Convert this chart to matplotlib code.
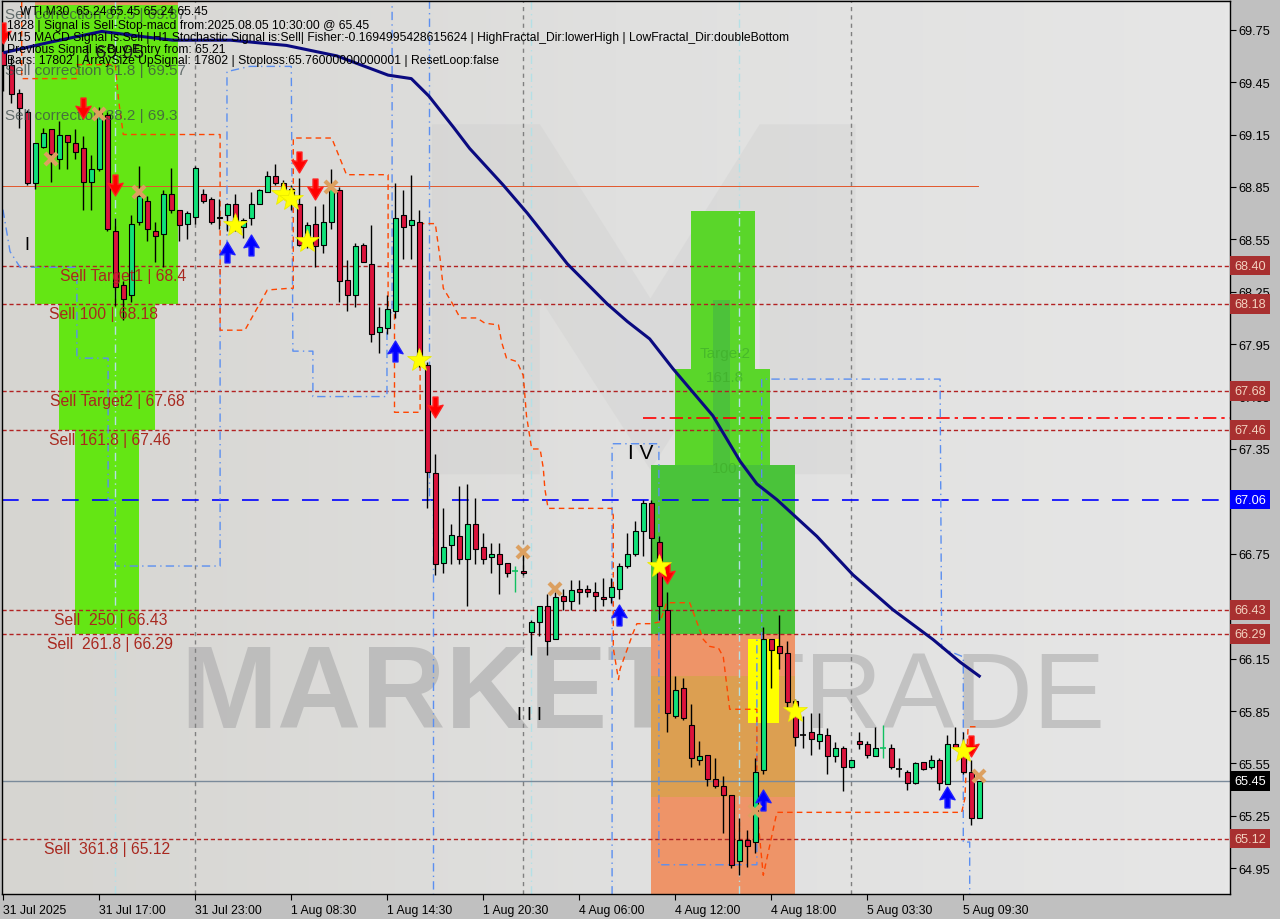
import numpy as np
import matplotlib
matplotlib.use('Agg')
import matplotlib.pyplot as plt
import matplotlib.transforms as mtransforms
from matplotlib.path import Path
from matplotlib.patches import Rectangle, Polygon
from matplotlib.colors import LinearSegmentedColormap

# WTI M30 candles, bar 0 = 31 Jul 11:00
opens = [69.63, 69.55, 69.39, 69.28, 68.87, 69.08, 69.18, 69.01, 69.15, 69.10,
         69.07, 68.88, 68.95, 69.26, 68.60, 68.29, 68.23, 68.65, 68.77, 68.60,
         68.58, 68.81, 68.72, 68.64, 68.68, 68.81, 68.78, 68.67, 68.69, 68.75,
         68.62, 68.67, 68.75, 68.82, 68.91, 68.87, 68.84, 68.75, 68.52, 68.64,
         68.52, 68.65, 68.83, 68.32, 68.23, 68.52, 68.41, 68.02, 68.04, 68.14,
         68.69, 68.63, 68.65, 67.83, 67.21, 66.70, 66.80, 66.85, 66.72, 66.92,
         66.79, 66.73, 66.75, 66.70, 66.65, 66.65, 66.30, 66.36, 66.45, 66.26,
         66.51, 66.48, 66.55, 66.55, 66.53, 66.50, 66.50, 66.55, 66.68, 66.75,
         66.88, 67.04, 66.82, 66.43, 65.82, 65.98, 65.77, 65.57, 65.60, 65.46,
         65.42, 65.37, 64.99, 65.11, 65.10, 65.51, 66.26, 66.22, 66.18, 65.91,
         65.71, 65.73, 65.68, 65.71, 65.59, 65.64, 65.53, 65.68, 65.66, 65.59,
         65.64, 65.64, 65.52, 65.50, 65.44, 65.56, 65.53, 65.57, 65.43, 65.66,
         65.61, 65.50, 65.24]
highs = [69.72, 69.60, 69.41, 69.29, 69.10, 69.19, 69.18, 69.23, 69.15, 69.18,
         69.14, 69.03, 69.31, 69.28, 68.67, 68.31, 68.69, 68.97, 68.80, 68.65,
         68.83, 68.96, 68.72, 68.71, 68.97, 68.84, 68.79, 68.78, 68.76, 68.81,
         68.67, 68.82, 68.84, 68.94, 68.98, 68.89, 68.86, 68.90, 68.65, 68.74,
         68.75, 68.95, 68.85, 68.43, 68.53, 68.53, 68.63, 68.16, 68.23, 68.87,
         68.83, 68.92, 68.72, 67.85, 67.32, 67.01, 66.92, 67.14, 67.15, 67.07,
         66.87, 66.81, 66.81, 66.70, 66.68, 66.76, 66.37, 66.45, 66.52, 66.53,
         66.55, 66.60, 66.60, 66.57, 66.59, 66.61, 66.61, 66.70, 66.87, 66.94,
         67.06, 67.06, 66.85, 66.53, 66.05, 66.04, 65.89, 65.68, 65.60, 65.58,
         65.48, 65.37, 65.24, 65.17, 65.58, 66.33, 66.26, 66.40, 66.25, 65.92,
         65.82, 65.84, 65.84, 65.75, 65.67, 65.65, 65.57, 65.73, 65.68, 65.76,
         65.77, 65.66, 65.58, 65.51, 65.56, 65.56, 65.60, 65.58, 65.71, 65.76,
         65.73, 65.57, 65.45]
lows = [69.40, 69.33, 69.19, 68.86, 68.84, 69.07, 68.88, 68.95, 68.95, 69.01,
        68.72, 68.72, 68.94, 68.60, 68.17, 68.09, 68.19, 68.63, 68.54, 68.42,
        68.39, 68.70, 68.54, 68.55, 68.64, 68.76, 68.64, 68.61, 68.60, 68.60,
        68.56, 68.63, 68.75, 68.82, 68.86, 68.80, 68.72, 68.51, 68.50, 68.39,
        68.47, 68.61, 68.19, 68.14, 68.16, 68.42, 67.96, 67.90, 68.01, 68.10,
        68.44, 68.44, 67.82, 67.01, 66.63, 66.64, 66.69, 66.69, 66.45, 66.69,
        66.69, 66.64, 66.52, 66.62, 66.53, 66.63, 66.17, 66.28, 66.17, 66.26,
        66.43, 66.43, 66.46, 66.50, 66.42, 66.45, 66.47, 66.49, 66.67, 66.74,
        66.74, 66.69, 66.37, 65.73, 65.81, 65.80, 65.53, 65.54, 65.42, 65.41,
        65.15, 64.95, 64.91, 64.96, 65.04, 65.49, 65.98, 66.09, 65.86, 65.65,
        65.64, 65.60, 65.63, 65.49, 65.56, 65.39, 65.53, 65.63, 65.58, 65.59,
        65.58, 65.52, 65.47, 65.40, 65.43, 65.51, 65.52, 65.40, 65.43, 65.63,
        65.49, 65.20, 65.24]
closes = [69.55, 69.38, 69.30, 68.87, 69.10, 69.16, 69.04, 69.15, 69.11, 69.05,
          68.88, 68.95, 69.28, 68.61, 68.28, 68.21, 68.64, 68.80, 68.61, 68.57,
          68.81, 68.72, 68.63, 68.70, 68.96, 68.77, 68.65, 68.68, 68.75, 68.65,
          68.66, 68.75, 68.83, 68.91, 68.87, 68.84, 68.78, 68.52, 68.63, 68.51,
          68.65, 68.84, 68.31, 68.23, 68.51, 68.42, 68.01, 68.05, 68.15, 68.67,
          68.62, 68.66, 67.85, 67.22, 66.69, 66.79, 66.86, 66.72, 66.92, 66.78,
          66.72, 66.75, 66.69, 66.64, 66.65, 66.64, 66.36, 66.45, 66.25, 66.50,
          66.48, 66.54, 66.53, 66.53, 66.51, 66.49, 66.56, 66.68, 66.75, 66.88,
          67.04, 66.84, 66.45, 65.84, 65.97, 65.81, 65.58, 65.59, 65.46, 65.42,
          65.37, 64.97, 65.11, 65.08, 65.50, 66.26, 66.20, 66.18, 65.90, 65.70,
          65.71, 65.69, 65.72, 65.59, 65.64, 65.53, 65.57, 65.66, 65.60, 65.64,
          65.64, 65.53, 65.52, 65.44, 65.55, 65.52, 65.57, 65.44, 65.66, 65.64,
          65.50, 65.24, 65.45]
cross_bars = [64, 110]   # green doji crosses

time_labels = ["31 Jul 2025", "31 Jul 17:00", "31 Jul 23:00", "1 Aug 08:30", "1 Aug 14:30",
               "1 Aug 20:30", "4 Aug 06:00", "4 Aug 12:00", "4 Aug 18:00", "5 Aug 03:30",
               "5 Aug 09:30"]
label_bars = [0, 12, 24, 36, 48, 60, 72, 84, 96, 108, 120]
day_sep_bars = [24, 65, 106]
cyan_sep_bars = [14, 66, 92]

# levels
sell_levels = [68.40, 68.18, 67.68, 67.46, 66.43, 66.29, 65.12]
sell_texts = ["Sell Target1 | 68.4", "Sell 100 | 68.18", "Sell Target2 | 67.68",
              "Sell 161.8 | 67.46", "Sell  250 | 66.43", "Sell  261.8 | 66.29",
              "Sell  361.8 | 65.12"]
sell_text_bars = [7.1, 5.7, 5.8, 5.7, 6.3, 5.5, 5.1]
blue_level = 67.06
last_price = 65.45
red_dashdot_level = 67.53
red_dashdot_start = 80.0
orange_level = 68.855
orange_level_end = 121.8
corr_texts = ["Sell correction 87.5 | 69.87", "Sell correction 61.8 | 69.57", "Sell correction 38.2 | 69.3"]
corr_prices = [69.84, 69.52, 69.26]

# moving average
ma_bars = [0.2, 6.0, 12.3, 17.5, 21.2, 28.4, 35.4, 41.7, 48.1, 51.0, 53.2, 56.3, 58.3, 62.5,
           65.5, 70.5, 75.5, 78.0, 80.8, 83.7, 88.7, 92.1, 94.2, 96.7, 101.7, 106.2, 111.2,
           116.2, 119.6, 122.0]
ma_vals = [69.62, 69.68, 69.74, 69.71, 69.69, 69.69, 69.66, 69.60, 69.49, 69.47, 69.37, 69.19,
           69.07, 68.86, 68.70, 68.41, 68.18, 68.08, 67.98, 67.81, 67.54, 67.28, 67.15, 67.06,
           66.85, 66.63, 66.43, 66.26, 66.13, 66.05]

# fractal channel lines
blue_fr1_bars = [-0.04, 0.84, 2.1, 9.2, 9.2, 13.1, 13.1, 14.0, 14.0, 27.1, 27.1, 27.96, 27.96,
                 30.8, 36.0, 36.2, 38.7, 38.7, 47.96, 47.96, 48.6, 48.6]
blue_fr1_vals = [68.72, 68.48, 68.39, 68.39, 67.87, 67.87, 67.06, 67.06, 66.68, 66.68, 68.46,
                 68.46, 69.51, 69.54, 69.54, 67.91, 67.91, 67.65, 67.65, 68.13, 68.13, 69.92]
blue_fr2_bars = [53.2, 53.2, 53.7, 53.7]
blue_fr2_vals = [69.92, 67.06, 67.06, 64.80]
blue_fr3_bars = [76.1, 76.1, 81.95, 81.95, 94.2, 94.2, 94.8, 94.8, 117.1, 117.3, 120.0, 120.0,
                 120.8, 120.8]
blue_fr3_vals = [64.80, 67.38, 67.38, 64.97, 64.97, 66.26, 66.26, 67.75, 67.75, 66.21, 66.16,
                 65.10, 65.10, 64.80]
orange_fr_bars = [2.3, 2.3, 9.2, 9.2, 14.0, 14.4, 15.0, 27.1, 27.1, 30.2, 33.0, 35.8, 36.25,
                  36.25, 41.05, 42.9, 48.1, 48.1, 48.9, 48.9, 52.1, 52.1, 54.0, 54.6, 55.0,
                  56.05, 57.1, 59.2, 60.2, 61.9, 62.3, 62.9, 64.2, 65.0, 65.4, 66.05, 67.1,
                  67.5, 67.7, 68.1, 76.05, 76.25, 76.25, 76.9, 77.1, 78.75, 79.2, 80.8, 82.1,
                  82.9, 85.8, 87.5, 88.3, 89.4, 90.0, 90.8, 94.2, 94.2, 95.0, 96.7, 119.8,
                  120.2, 120.6, 121.9]
orange_fr_vals = [69.91, 69.47, 69.47, 69.55, 69.55, 69.35, 69.15, 69.15, 68.03, 68.03, 68.26,
                  68.27, 68.27, 69.13, 69.13, 68.92, 68.92, 68.17, 68.17, 67.56, 67.56, 68.64,
                  68.64, 68.44, 68.27, 68.19, 68.10, 68.10, 68.07, 68.06, 67.96, 67.87, 67.85,
                  67.77, 67.54, 67.35, 67.35, 67.24, 67.12, 67.01, 67.01, 66.97, 66.21, 66.03,
                  66.09, 66.30, 66.35, 66.35, 66.36, 66.47, 66.47, 66.26, 66.22, 66.21, 66.16,
                  65.86, 65.86, 65.29, 64.91, 65.27, 65.27, 65.35, 65.76, 65.76]

# signal markers
sell_arrow_bars = [0, 10, 14, 37, 39, 54, 83, 121]
sell_arrow_vals = [69.73, 69.30, 68.86, 68.99, 68.84, 67.59, 66.64, 65.65]
buy_arrow_bars = [28, 31, 49, 77, 95, 118]
buy_arrow_vals = [68.48, 68.52, 67.91, 66.40, 65.34, 65.36]
star_bars = [29, 35, 36, 38, 52, 82, 99, 120]
star_vals = [68.63, 68.81, 68.78, 68.54, 67.86, 66.68, 65.85, 65.62]
cross_mark_bars = [6, 12, 17, 41, 65, 69, 94, 122]
cross_mark_vals = [69.01, 69.27, 68.82, 68.85, 66.76, 66.55, 65.28, 65.48]

# zones (bar range, price range)
left_zone_x0 = [3.96, 7.0, 8.96]
left_zone_x1 = [21.84, 18.96, 16.96]
left_zone_top = [69.89, 68.18, 67.46]
left_zone_bot = [68.18, 67.46, 66.29]
right_zone_x0 = [85.96, 83.96, 80.96]
right_zone_x1 = [93.96, 95.8, 98.96]
right_zone_top = [68.71, 67.81, 67.26]
right_zone_bot = 66.29
orange_zone = (80.96, 98.96, 64.80, 66.29)
yellow_zone = (93.1, 96.96, 65.78, 66.26)

info_lines = [
    "WTI,M30  65.24 65.45 65.24 65.45",
    "1828 | Signal is Sell-Stop-macd from:2025.08.05 10:30:00 @ 65.45",
    "M15 MACD Signal is:Sell | H1 Stochastic Signal is:Sell| Fisher:-0.1694995428615624 | HighFractal_Dir:lowerHigh | LowFractal_Dir:doubleBottom",
    "Previous Signal is:Buy-Entry from: 65.21",
    "Bars: 17802 | ArraySize UpSignal: 17802 | Stoploss:65.76000000000001 | ResetLoop:false",
]

FONT = 'Liberation Sans'
BULL = '#10e27a'
BEAR = '#dc143c'
LEVEL_RED = '#b22222'

fig = plt.figure(figsize=(12.8, 9.2), dpi=100, facecolor='#c0c0c0')
ax = fig.add_axes([2 / 1280, 25 / 920, 1228 / 1280, 893 / 920])

# background gradient + faint logo
cmap = LinearSegmentedColormap.from_list('bg', ['#d6d5d1', '#e0e0df', '#e6e6e6'])
ax.imshow(np.linspace(0, 1, 256).reshape(1, -1), extent=[0, 1, 0, 1], transform=ax.transAxes,
          aspect='auto', cmap=cmap, zorder=0)
logo = [(0.350, 0.862), (0.438, 0.862), (0.528, 0.667), (0.617, 0.862), (0.695, 0.862),
        (0.695, 0.470), (0.617, 0.470), (0.617, 0.667), (0.528, 0.475), (0.438, 0.667),
        (0.438, 0.470), (0.350, 0.470)]
ax.add_patch(Polygon(logo, closed=True, transform=ax.transAxes, facecolor='#cacaca',
                     alpha=0.28, edgecolor='none', zorder=0.2))
ax.text(0.145, 0.187, 'MARKETZ', transform=ax.transAxes, fontsize=84, fontweight='bold',
        family=FONT, color='#b8b8b8', alpha=0.85, va='baseline', zorder=0.3)
ax.text(0.600, 0.187, 'TRADE', transform=ax.transAxes, fontsize=78, family=FONT,
        color='#bdbdbd', alpha=0.85, va='baseline', zorder=0.3)

# zones
ax.add_patch(Rectangle((left_zone_x0[0], 69.89), left_zone_x1[0] - left_zone_x0[0], 0.05,
                       facecolor='#e8956a', edgecolor='none', zorder=0.5))
for x0, x1, top, bot in zip(left_zone_x0, left_zone_x1, left_zone_top, left_zone_bot):
    ax.add_patch(Rectangle((x0, bot), x1 - x0, top - bot, facecolor='#64e614',
                           edgecolor='none', zorder=0.5))
ox0, ox1, ob, ot = orange_zone
ax.add_patch(Rectangle((ox0, ob), ox1 - ox0, ot - ob, facecolor='#ee9468', edgecolor='none', zorder=0.5))
ax.add_patch(Rectangle((ox0, 65.36), ox1 - ox0, 0.69, facecolor='#d9a24e', edgecolor='none',
                       alpha=0.85, zorder=0.55))
right_colors = ['#5ad62a', '#5ad62a', '#4ac33a']
for x0, x1, top, c in zip(right_zone_x0, right_zone_x1, right_zone_top, right_colors):
    ax.add_patch(Rectangle((x0, right_zone_bot), x1 - x0, top - right_zone_bot, facecolor=c,
                           edgecolor='none', zorder=0.5 if c != '#4ac33a' else 0.52))
ax.add_patch(Rectangle((88.7, right_zone_top[2]), 2.2, 68.20 - right_zone_top[2],
                       facecolor='#4cc23a', edgecolor='none', zorder=0.51))
yx0, yx1, yb, yt = yellow_zone
ax.add_patch(Rectangle((yx0, yb), yx1 - yx0, yt - yb, facecolor='#ffff00', edgecolor='none', zorder=0.6))
for txt, pv in zip(["Target2", "161.8", "100"], [67.90, 67.76, 67.24]):
    ax.text(90.2, pv, txt, fontsize=11, family=FONT, color='#3fae2a', alpha=0.7,
            ha='center', va='center', zorder=0.7)

# separators
for b in day_sep_bars:
    ax.axvline(b, color='#808080', lw=1, ls=(0, (3, 3)), zorder=0.8)
for b in cyan_sep_bars:
    ax.axvline(b, color='#b4e0e6', lw=1, ls=(0, (6, 3, 1, 3)), zorder=0.8)

# level lines
for lvl in sell_levels:
    ax.axhline(lvl, color=LEVEL_RED, lw=1, ls=(0, (3, 2)), zorder=1)
for txt, b, lvl in zip(sell_texts, sell_text_bars, sell_levels):
    ax.text(b, lvl - 0.055, txt, fontsize=11.3, family=FONT, color='#a8281f',
            va='center', ha='left', zorder=6)
ax.axhline(blue_level, color='#0000ff', lw=1.2, ls=(0, (10, 8)), zorder=1)
ax.axhline(last_price, color='#7a8a9a', lw=1, zorder=1)
ax.plot([red_dashdot_start, 153.4], [red_dashdot_level] * 2, color='#ff0000', lw=1.2,
        ls=(0, (8, 3, 2, 3)), zorder=1)
ax.plot([-0.2, orange_level_end], [orange_level] * 2, color='#e2572c', lw=0.7, zorder=1)

# fractal lines
for bx, by in [(blue_fr1_bars, blue_fr1_vals), (blue_fr2_bars, blue_fr2_vals),
               (blue_fr3_bars, blue_fr3_vals)]:
    ax.plot(bx, by, color='#5b8ff0', lw=1, ls=(0, (6, 3, 1, 3)), zorder=1.5)
ax.plot(orange_fr_bars, orange_fr_vals, color='#ff4500', lw=1, ls=(0, (4, 3)), zorder=1.5)

# moving average
ax.plot(ma_bars, ma_vals, color='#0a0a80', lw=2.2, zorder=4)

# candles
x = np.arange(len(opens))
o = np.array(opens); h = np.array(highs); l = np.array(lows); c = np.array(closes)
wick_col = ['#10c060' if i in cross_bars else 'black' for i in x]
ax.vlines(x, l, h, colors=wick_col, lw=1, zorder=2)
up = c > o
down = c < o
ax.bar(x[up], (c - o)[up], bottom=o[up], width=0.65, color=BULL, edgecolor='black',
       linewidth=0.8, zorder=3)
ax.bar(x[down], (o - c)[down], bottom=c[down], width=0.65, color=BEAR, edgecolor='black',
       linewidth=0.8, zorder=3)
flat = c == o
ax.hlines(o[flat], x[flat] - 0.35, x[flat] + 0.35, colors=np.array(wick_col)[flat], lw=1.2, zorder=3)

# markers
down_path = Path([(-0.13, 0.55), (0.13, 0.55), (0.13, 0.05), (0.4, 0.12), (0.0, -0.55),
                  (-0.4, 0.12), (-0.13, 0.05), (-0.13, 0.55)], closed=True)
up_path = Path([(px, -py) for px, py in down_path.vertices], closed=True)
ax.plot(sell_arrow_bars, sell_arrow_vals, ls='none', marker=down_path, ms=15, color='#ff0000',
        mec='#ff2020', zorder=7)
ax.plot(buy_arrow_bars, buy_arrow_vals, ls='none', marker=up_path, ms=15, color='#0000ff',
        mec='#2020ff', zorder=7)
ax.plot(star_bars, star_vals, ls='none', marker='*', ms=18, color='#ffff00', mec='#e8e800',
        mew=0.5, zorder=7)
ax.plot(cross_mark_bars, cross_mark_vals, ls='none', marker='x', ms=9, mew=3, color='#dca060',
        zorder=7)

# wave labels
ax.text(3, 68.52, 'I', fontsize=13, family=FONT, color='black', ha='center', va='center', zorder=6)
ax.text(65.8, 65.83, 'I I I', fontsize=13, family=FONT, color='black', ha='center', va='center', zorder=6)
ax.text(79.7, 67.33, 'I V', fontsize=15, family=FONT, color='black', ha='center', va='center', zorder=6)

# correction texts
for txt, pv in zip(corr_texts, corr_prices):
    ax.text(0.2, pv, txt, fontsize=11, family=FONT, color='#3c4a4a', alpha=0.75,
            va='center', ha='left', zorder=6)
ax.text(10.2, 69.62, '| 69.95', fontsize=14, family=FONT, color='#202020', va='center',
        ha='left', zorder=6)

# info block
info_y = [12, 26, 38, 50, 61]
info_x = [20, 7, 7, 7, 7]
for txt, px, py in zip(info_lines, info_x, info_y):
    fig.text(px / 1280, 1 - py / 920, txt, fontsize=8.7, family=FONT, color='black',
             va='center', ha='left', zorder=10)

# axes styling
ax.set_xlim(-0.1625, 153.34)
ax.set_ylim(64.8026, 69.9143)
for sp in ax.spines.values():
    sp.set_color('black')
    sp.set_linewidth(1)
ax.yaxis.tick_right()
yt = np.round(np.arange(64.95, 69.76, 0.30), 2)
ax.set_yticks(yt)
ax.set_yticklabels([f'{v:.2f}' for v in yt], fontsize=9.2, family=FONT)
ax.set_xticks(label_bars)
ax.set_xticklabels(time_labels, fontsize=8.8, family=FONT, ha='left')
ax.tick_params(axis='y', direction='out', length=4, pad=2, colors='black')
ax.tick_params(axis='x', direction='out', length=4, pad=3, colors='black')

# price boxes on the right axis
trans = mtransforms.blended_transform_factory(ax.transAxes, ax.transData)
box_x = 1.0035
for lvl in sell_levels:
    ax.text(box_x, lvl, f'{lvl:.2f}', transform=trans, fontsize=9.2, family=FONT, color='#f3d2c0',
            va='center', ha='left', clip_on=False, zorder=8,
            bbox=dict(boxstyle='square,pad=0.3', facecolor='#a83030', edgecolor='none'))
ax.text(box_x, blue_level, f'{blue_level:.2f}', transform=trans, fontsize=9.2, family=FONT,
        color='white', va='center', ha='left', clip_on=False, zorder=8,
        bbox=dict(boxstyle='square,pad=0.3', facecolor='#0000ff', edgecolor='none'))
ax.text(box_x, last_price, f'{last_price:.2f}', transform=trans, fontsize=9.2, family=FONT,
        color='white', va='center', ha='left', clip_on=False, zorder=8,
        bbox=dict(boxstyle='square,pad=0.3', facecolor='black', edgecolor='none'))

fig.savefig('out.png', dpi=100, facecolor=fig.get_facecolor())
